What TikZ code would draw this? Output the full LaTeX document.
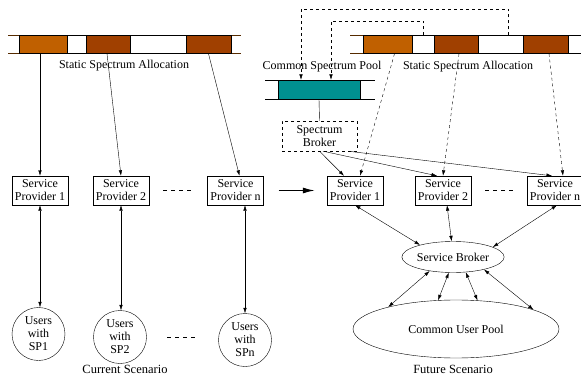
\documentclass[tikz,border=0pt]{standalone}
\usepackage{fontspec}
\setmainfont{Liberation Serif}
\usetikzlibrary{arrows.meta,shapes.geometric}
\definecolor{sporange}{RGB}{192,96,0}
\definecolor{spbrown}{RGB}{160,64,0}
\definecolor{spteal}{RGB}{0,144,144}

\begin{document}
\begin{tikzpicture}[x=1pt,y=-1pt,
    >={Latex[length=5.5pt,width=3.5pt]},
    every node/.style={font=\fontsize{12}{13}\selectfont},
    band/.style={draw=black,inner sep=0pt,minimum height=18pt},
    provider/.style={draw=black,align=center,inner sep=1pt,minimum width=56pt,minimum height=29pt},
    users/.style={draw=black,circle,align=center,inner sep=0pt,minimum size=53pt},
    broker/.style={draw=black,ellipse,inner sep=0pt},
    dots/.style={dash pattern=on 4pt off 4pt}]
    \useasboundingbox (0,0) rectangle (581,377);

    % current scenario: static spectrum bands
    \draw[black!55!sporange] (8,35.5) -- (241,35.5) (8,53.5) -- (241,53.5);
    \draw (19,35.5) rectangle (231,53.5);
    \node[band,fill=sporange,minimum width=48pt] (lb1) at (43,44.5) {};
    \node[band,fill=spbrown,minimum width=44pt] (lb2) at (108,44.5) {};
    \node[band,fill=spbrown,minimum width=45pt] (lb3) at (208.5,44.5) {};
    \node (lalloc) at (124,66) {Static Spectrum Allocation};

    \node[provider] (lsp1) at (40,190.5) {Service\\Provider 1};
    \node[provider] (lsp2) at (121,190.5) {Service\\Provider 2};
    \node[provider] (lspn) at (235.5,190.5) {Service\\Provider n};

    \node[users] (u1) at (38.5,334) {Users\\with\\SP1};
    \node[users] (u2) at (120,337) {Users\\with\\SP2};
    \node[users] (un) at (245,340) {Users\\with\\SPn};

    \draw[->] (lsp1.north |- lb1.south) -- (lsp1.north);
    \draw[->] ([xshift=-1pt]lb2.south) -- (lsp2.north);
    \draw[->] (lb3.south) -- ([xshift=4pt]lspn.north);

    \draw[<->] (lsp1.south) -- (lsp1.south |- u1.north);
    \draw[<->] (lsp2.south) -- (lsp2.south |- u2.north);
    \draw[<->] (lspn.south -| un.north) -- (un.north);

    \draw[dots] ([xshift=14pt]lsp2.east) -- ([xshift=-15pt]lspn.west);
    \draw[dots] ([xshift=20.5pt]u2.east) -- +(30,0);

    \node (cur) at (125,369) {\fontsize{12.5}{14}\selectfont Current Scenario};

    % future scenario: bands, common pool and brokers
    \draw[black!55!sporange] (350,35.5) -- (590,35.5) (350,53.5) -- (590,53.5);
    \draw (363,35.5) rectangle (590,53.5);
    \node[band,fill=sporange,minimum width=49pt] (rb1) at (387.5,44.5) {};
    \node[band,fill=spbrown,minimum width=44pt] (rb2) at (456,44.5) {};
    \node[band,fill=spbrown,minimum width=45pt] (rb3) at (545.5,44.5) {};
    \node (ralloc) at (468,67) {Static Spectrum Allocation};

    \node (pool) at (322,67) {Common Spectrum Pool};
    \draw (265,80) -- (375,80) (265,99) -- (375,99);
    \node[band,fill=spteal,minimum width=82pt,minimum height=19pt] (cp) at (319,89.5) {};

    \draw[dashed,->] ([xshift=30pt]rb2.north east) |- (301,9) -- ([xshift=-18pt]cp.north);
    \draw[dashed,->] ([xshift=11pt]rb1.north east) |- (331,21) -- ([xshift=12pt]cp.north);

    \node[draw,dashed,align=center,inner sep=1pt,minimum width=75pt,minimum height=30pt] (specbroker) at (319.5,136) {Spectrum\\Broker};
    \draw (cp.south) -- (specbroker.north);

    \node[provider] (rsp1) at (355,190.5) {Service\\Provider 1};
    \node[provider] (rsp2) at (443,190.5) {Service\\Provider 2};
    \node[provider] (rspn) at (555,190.5) {Service\\Provider n};
    \draw[dots] ([xshift=14pt]rsp2.east) -- ([xshift=-10pt]rspn.west);

    \draw[line width=1.2pt,-{Latex[length=12pt,width=6pt]}] ([xshift=15pt]lspn.east) -- ([xshift=-12pt]rsp1.west);

    \draw[dashed,->] ([xshift=7pt]rb1.south) -- ([xshift=5pt]rsp1.north);
    \draw[dashed,->] ([xshift=3pt]rb2.south) -- (rsp2.north);
    \draw[dashed,->] ([xshift=3.5pt]rb3.south) -- ([xshift=8pt]rspn.north);

    \draw[->] (specbroker.south) -- ([xshift=-11pt]rsp1.north);
    \draw[->] ([xshift=3.5pt]specbroker.south) -- ([xshift=-6pt]rsp2.north);
    \draw[->] ([xshift=-9pt]specbroker.south east) -- ([xshift=-3pt]rspn.north);

    \node[broker,minimum width=100pt,minimum height=31pt] (svb) at (453,257) {Service Broker};
    \node[broker,minimum width=206pt,minimum height=58pt] (cup) at (456,329) {Common User Pool};

    \draw[<->] (rsp1.south) -- (svb.160);
    \draw[<->] ([xshift=4pt]rsp2.south) -- (svb.95);
    \draw[<->] ([xshift=2pt]rspn.south) -- (svb.14);

    \draw[<->] (svb.211) -- (cup.162);
    \draw[<->] (svb.255) -- (cup.122);
    \draw[<->] (svb.310) -- (cup.53);
    \draw[<->] (svb.338) -- (cup.14);

    \node (fut) at (453,369) {\fontsize{12.5}{14}\selectfont Future Scenario};
\end{tikzpicture}
\end{document}
